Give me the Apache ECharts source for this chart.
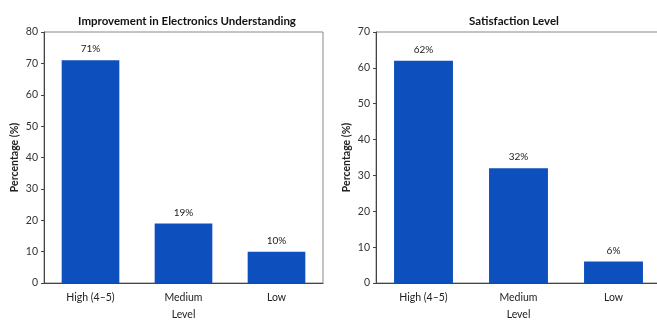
<!DOCTYPE html>
<html>
<head>
<meta charset="utf-8">
<script src="https://cdn.jsdelivr.net/npm/echarts@6/dist/echarts.min.js"></script>
<style>
  html, body { margin: 0; padding: 0; background: #fff; }
  #chart { width: 657px; height: 320px; }
</style>
</head>
<body>
<div id="chart"></div>
<script>
// Survey results: two bar panels sharing the same level categories
const levels = ['High (4–5)', 'Medium', 'Low'];
const understandingValues = [71, 19, 10];
const satisfactionValues = [62, 32, 6];
const understandingTicks = { min: 0, max: 80, interval: 10 };
const satisfactionTicks = { min: 0, max: 70, interval: 10 };

const FONT = 'Lato, "DejaVu Sans", sans-serif';
const BAR = '#0d4fbd';
const AXIS = '#444';

function xAxisFor(gridIndex) {
  return {
    type: 'category', gridIndex, data: levels,
    name: 'Level', nameLocation: 'middle', nameGap: 26,
    nameTextStyle: { fontFamily: FONT, fontSize: 10.5, color: '#222' },
    axisLine: { lineStyle: { color: AXIS, width: 1 } },
    axisTick: { alignWithLabel: true, length: 3, lineStyle: { color: AXIS } },
    axisLabel: { fontFamily: FONT, fontSize: 10.5, color: '#222', margin: 9 }
  };
}
function yAxisFor(gridIndex, ticks) {
  return {
    type: 'value', gridIndex, min: ticks.min, max: ticks.max, interval: ticks.interval,
    name: 'Percentage (%)', nameLocation: 'middle', nameGap: 24, nameRotate: 90,
    nameTextStyle: { fontFamily: FONT, fontSize: 10.5, fontWeight: 'bold', color: '#222' },
    axisLine: { show: true, lineStyle: { color: AXIS, width: 1 } },
    axisTick: { show: true, length: 3, lineStyle: { color: AXIS } },
    axisLabel: { fontFamily: FONT, fontSize: 10.5, color: '#333', margin: 6 },
    splitLine: { show: false }
  };
}
function barSeries(index, values) {
  return {
    type: 'bar', xAxisIndex: index, yAxisIndex: index, data: values,
    barWidth: '62%', itemStyle: { color: BAR },
    label: {
      show: true, position: 'top', distance: 6, formatter: '{c}%',
      fontFamily: FONT, fontSize: 10, color: '#222'
    }
  };
}

const chart = echarts.init(document.getElementById('chart'), null, { renderer: 'canvas' });
chart.setOption({
  animation: false,
  backgroundColor: '#fff',
  title: [
    { text: 'Improvement in Electronics Understanding', left: 182, top: 10, textAlign: 'center',
      textStyle: { fontFamily: FONT, fontSize: 11.5, fontWeight: 'bold', color: '#111' } },
    { text: 'Satisfaction Level', left: 509, top: 10, textAlign: 'center',
      textStyle: { fontFamily: FONT, fontSize: 11.5, fontWeight: 'bold', color: '#111' } }
  ],
  grid: [
    { left: 44, top: 32, width: 279, height: 251, outerBoundsMode: 'none', containLabel: false,
      show: true, borderColor: '#888', borderWidth: 1 },
    { left: 376, top: 32, width: 285, height: 251, outerBoundsMode: 'none', containLabel: false,
      show: true, borderColor: '#888', borderWidth: 1 }
  ],
  xAxis: [xAxisFor(0), xAxisFor(1)],
  yAxis: [yAxisFor(0, understandingTicks), yAxisFor(1, satisfactionTicks)],
  series: [barSeries(0, understandingValues), barSeries(1, satisfactionValues)]
});
</script>
</body>
</html>
